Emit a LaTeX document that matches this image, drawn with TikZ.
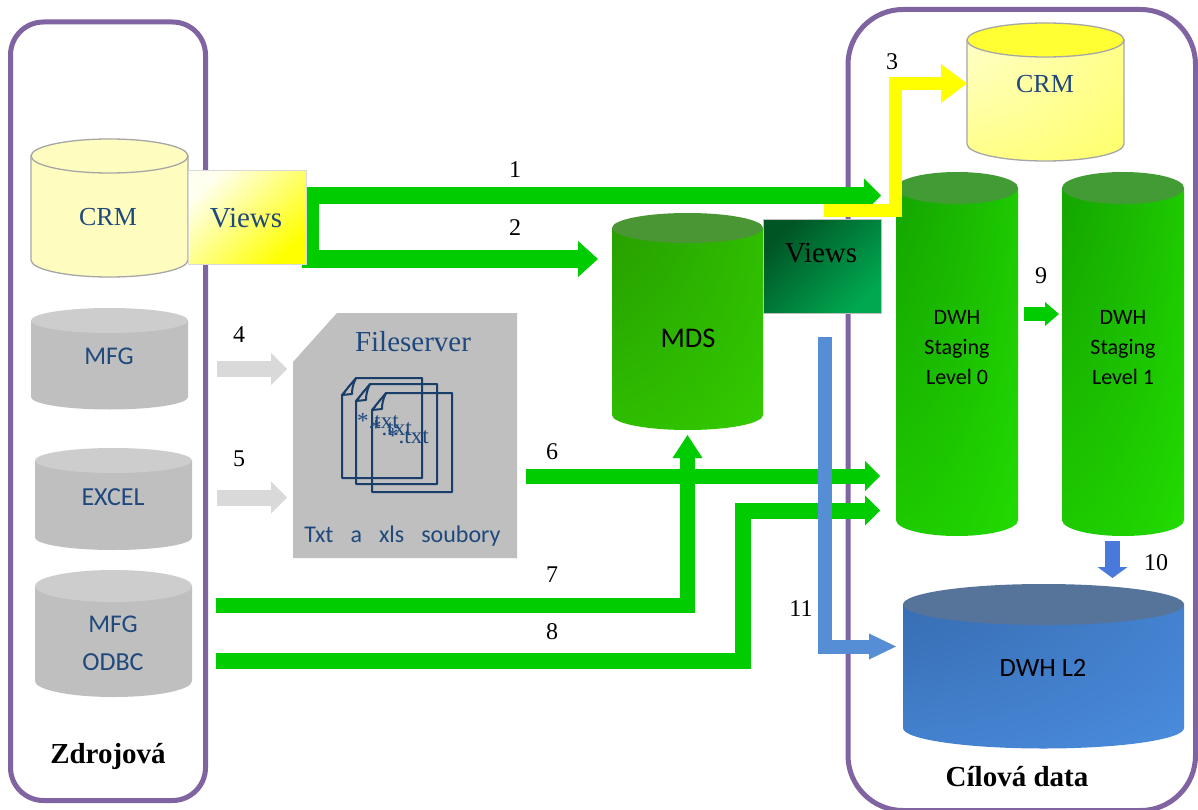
\documentclass[tikz,border=0pt]{standalone}
\usepackage{fontspec}
\setmainfont{Liberation Serif}
\newfontfamily\calf{Carlito}
\usetikzlibrary{arrows.meta}
\definecolor{frameP}{HTML}{8064A2}
\definecolor{txtB}{HTML}{1F497D}
\definecolor{grn}{HTML}{00CC00}
\definecolor{blu}{HTML}{558ED5}
\definecolor{yel}{HTML}{FFFF00}
\definecolor{lgr}{HTML}{D9D9D9}
\definecolor{dbgray}{HTML}{BFBFBF}
\definecolor{dbgrayT}{HTML}{CDCDCD}
\definecolor{gA}{HTML}{0F8A00}
\definecolor{gB}{HTML}{22DC00}
\definecolor{mA}{HTML}{228A00}
\definecolor{mB}{HTML}{33CC00}
\definecolor{bA}{HTML}{2F5F9E}
\definecolor{bB}{HTML}{4A8CDE}
\definecolor{gT}{HTML}{429B35}
\definecolor{mT}{HTML}{4A9635}
\definecolor{bT}{HTML}{567499}
\definecolor{cT}{HTML}{FFFF33}
\definecolor{cA}{HTML}{FFFFF4}
\definecolor{cB}{HTML}{FFFF33}
\definecolor{vA}{HTML}{005525}
\definecolor{vB}{HTML}{00A850}
\definecolor{lA}{HTML}{FFFFF0}
\pgfdeclareradialshading{shgreen}{\pgfpoint{-50bp}{50bp}}{color(0bp)=(gA); color(72bp)=(gB); color(150bp)=(gB)}
\pgfdeclareradialshading{shmds}{\pgfpoint{-50bp}{50bp}}{color(0bp)=(mA); color(72bp)=(mB); color(150bp)=(mB)}
\pgfdeclareradialshading{shblue}{\pgfpoint{-50bp}{50bp}}{color(0bp)=(bA); color(72bp)=(bB); color(150bp)=(bB)}
\pgfdeclareradialshading{shcrm}{\pgfpoint{-50bp}{50bp}}{color(0bp)=(cA); color(100bp)=(cB); color(150bp)=(cB)}
\tikzset{
  frame/.style={draw=frameP,line width=5pt,rounded corners=#1},
  conn/.style={line width=#1,line join=miter},
  tipS/.style={-{Triangle[length=15pt,width=30pt,line width=0pt]}},
  num/.style={font=\fontsize{24}{26}\selectfont,text=black,inner sep=0pt},
  tms/.style={font=\fontsize{#1}{#1}\selectfont,text=txtB,inner sep=0pt},
  cal/.style={font=\calf\fontsize{#1}{#1}\selectfont,text=txtB,inner sep=0pt},
  calk/.style={font=\calf\fontsize{#1}{#1}\selectfont,text=black,inner sep=0pt},
  ttl/.style={font=\bfseries\fontsize{29}{30}\selectfont,text=black,inner sep=0pt},
  bodyGray/.style={fill=dbgray},
  topGray/.style={fill=dbgrayT},
  docline/.style={draw=txtB!85!black,line width=2pt,line join=round},
}
% x1,x2,ytop,ybot,ry,body style,top style
\newcommand{\dbcyl}[7]{%
  \pgfmathsetmacro{\rxx}{(#2-#1)/2}%
  \pgfmathsetmacro{\cxx}{(#2+#1)/2}%
  \path[#6] (#1,#3) -- (#1,#4) arc[start angle=180,end angle=0,x radius=\rxx,y radius=#5] -- (#2,#3) -- cycle;
  \path[#7] (\cxx,#3) ellipse[x radius=\rxx,y radius=#5];
}
\newcommand{\docshape}[4]{%
  \draw[docline] (#1,#2+17) -- (#1+14,#2) -- (#3,#2) -- (#3,#4) -- (#1,#4) -- cycle;
  \draw[docline] (#1+14,#2) .. controls (#1+11,#2+6) and (#1+10,#2+11) .. (#1+10,#2+16) -- (#1,#2+17);
  \draw[docline,line width=1.2pt] (#1+2,#2+16) .. controls (#1+5,#2+10) and (#1+8,#2+6) .. (#1+12,#2+3);
}
\begin{document}
\begin{tikzpicture}[x=1pt,y=-1pt]
\useasboundingbox (0,0) rectangle (1198,810);
\clip (0,0) rectangle (1198,810);
\fill[white] (0,0) rectangle (1198,810);

% frames
\draw[frame=33pt] (10.5,22) rectangle (205.5,800.5);
\draw[frame=55pt] (848,9.5) rectangle (1195.5,810.5);

% source cylinders
\dbcyl{31}{188}{156}{260}{17}{fill=yellow!25,draw=black!35,line width=1.3pt}{fill=yellow!25,draw=black!35,line width=1.3pt}
\dbcyl{31}{188}{320.5}{397}{12.5}{bodyGray}{topGray}
\dbcyl{35}{192}{460.5}{537.5}{12.5}{bodyGray}{topGray}
\dbcyl{35}{192}{586}{681}{16}{bodyGray}{topGray}

% target cylinders
\dbcyl{967}{1124}{40}{144}{17}{shading=shcrm,draw=black!35,line width=1.3pt}{fill=cT,draw=black!35,line width=1.3pt}
\dbcyl{612}{763}{228}{415}{15}{shading=shmds}{fill=mT}
\dbcyl{896}{1018}{188}{520}{16}{shading=shgreen}{fill=gT}
\dbcyl{1062}{1184}{188}{520}{16}{shading=shgreen}{fill=gT}
\dbcyl{903}{1184}{604.5}{728}{20.5}{shading=shblue}{fill=bT}

% fileserver
\fill[dbgray] (337,313) -- (517,313) -- (517,558) -- (293,558) -- (293,362) -- cycle;
\docshape{342}{378}{422}{478}
\docshape{356}{384}{437}{484}
\docshape{372}{393}{452}{492}

% connector anchors
\coordinate (a1s) at (306,195.5);   \coordinate (a1e) at (881,195.5);
\coordinate (jt)  at (312.5,187);   \coordinate (jb)  at (312.5,268);
\coordinate (a2s) at (302,259);     \coordinate (a2e) at (598,259);
\coordinate (a3s) at (824,210.5);   \coordinate (a3m) at (895.5,210.5);
\coordinate (a3n) at (895.5,83.5);  \coordinate (a3e) at (967,83.5);
\coordinate (a4s) at (217,369);     \coordinate (a4e) at (287,369);
\coordinate (a5s) at (217,497.5);   \coordinate (a5e) at (287,497.5);
\coordinate (a6s) at (526,476);     \coordinate (a6e) at (880,476);
\coordinate (a7s) at (216,605.5);   \coordinate (a7m) at (687.5,605.5); \coordinate (a7e) at (687.5,435);
\coordinate (a8s) at (216,661);     \coordinate (a8m) at (743,661);
\coordinate (a8n) at (743,510.5);   \coordinate (a8e) at (880,510.5);
\coordinate (a9s) at (1024,314);    \coordinate (a9e) at (1059,314);
\coordinate (a10s) at (1112.5,541); \coordinate (a10e) at (1112.5,578);
\coordinate (a11s) at (825,337);    \coordinate (a11m) at (825,646.5);  \coordinate (a11e) at (896,646.5);

% connectors
\draw[conn=17pt,draw=grn,-{Triangle[length=17pt,width=34pt,line width=0pt]}] (a1s) -- (a1e);
\draw[conn=13pt,draw=grn] (jt) -- (jb);
\draw[conn=18pt,draw=grn,-{Triangle[length=20pt,width=36pt,line width=0pt]}] (a2s) -- (a2e);
\draw[conn=15pt,draw=grn,tipS] (a6s) -- (a6e);
\draw[conn=15pt,draw=grn,-{Triangle[length=23pt,width=30pt,line width=0pt]}] (a7s) -- (a7m) -- (a7e);
\draw[conn=16pt,draw=grn,tipS] (a8s) -- (a8m) -- (a8n) -- (a8e);
\draw[conn=14pt,draw=grn,-{Triangle[length=14pt,width=24pt,line width=0pt]}] (a9s) -- (a9e);
\draw[conn=16pt,draw=lgr,-{Triangle[length=16pt,width=32pt,line width=0pt]}] (a4s) -- (a4e);
\draw[conn=16pt,draw=lgr,-{Triangle[length=16pt,width=32pt,line width=0pt]}] (a5s) -- (a5e);
\draw[conn=14pt,draw=blu,-{Triangle[length=27pt,width=26pt,line width=0pt]}] (a11s) -- (a11m) -- (a11e);
\draw[conn=15pt,draw=blu!85!blue,-{Triangle[length=11pt,width=30pt,line width=0pt]}] (a10s) -- (a10e);
\draw[conn=13pt,draw=yel,-{Triangle[length=26pt,width=39pt,line width=0pt]}] (a3s) -- (a3m) -- (a3n) -- (a3e);

% views boxes
\path[left color=lA,right color=yellow,shading angle=45,draw=black!15,line width=1pt] (188,171) rectangle (306,264);
\path[left color=vA,right color=vB,shading angle=45,draw=black!25,line width=1pt] (763,220) rectangle (881,313);

% labels
\node[tms=26] (lcrm) at (108,217) {CRM};
\node[tms=29] (lviews) at (246,218) {Views};
\node[cal=25.5] (lmfg) at (109,356) {MFG};
\node[cal=26] (lexcel) at (113,497) {EXCEL};
\node[cal=25.5] (lmfg2) at (113,624) {MFG};
\node[cal=26] (lodbc) at (113,662) {ODBC};
\node[ttl] (lzdroj) at (108,757) {Zdrojová};
\node[tms=26] (rcrm) at (1045,84) {CRM};
\node[calk=28.5] (lmds) at (688,338) {MDS};
\node[tms=29,text=black] (rviews) at (821,253) {Views};
\node[calk=22] (d0a) at (957,317) {DWH};
\node[calk=22] (d0b) at (957,349) {Staging};
\node[calk=22] (d0c) at (957,377) {Level 0};
\node[calk=22] (d1a) at (1123,317) {DWH};
\node[calk=22] (d1b) at (1123,349) {Staging};
\node[calk=22] (d1c) at (1123,377) {Level 1};
\node[calk=26.5] (dl2) at (1043,668) {DWH L2};
\node[ttl] (lcil) at (1017,777) {Cílová data};
\node[tms=29] (lfs) at (413,342) {Fileserver};
\node[cal=24] (lsb) at (402.5,536) {Txt\hspace{17pt}a\hspace{17pt}xls\hspace{17pt}soubory};
\node[tms=23,anchor=base west] (t1) at (357,428) {*.txt};
\node[tms=23,anchor=base west] (t2) at (370,435) {*.txt};
\node[tms=23,anchor=base west] (t3) at (387,443) {*.txt};
\node[num] (n1) at (515,170) {1};
\node[num] (n2) at (515,228) {2};
\node[num] (n3) at (892,62) {3};
\node[num] (n4) at (239,335) {4};
\node[num] (n5) at (239,459) {5};
\node[num] (n6) at (552,452) {6};
\node[num] (n7) at (552,575) {7};
\node[num] (n8) at (552,632) {8};
\node[num] (n9) at (1041,276) {9};
\node[num] (n10) at (1156,563) {10};
\node[num] (n11) at (801,609) {11};
\end{tikzpicture}
\end{document}
